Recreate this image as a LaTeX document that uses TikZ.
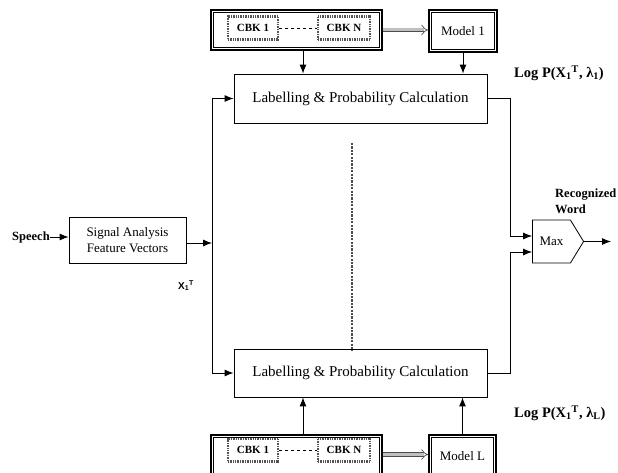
\documentclass[tikz,border=0pt]{standalone}
\usepackage{fontspec}
\setmainfont{Liberation Serif}
\newfontfamily\arialfont{Liberation Sans}
\usetikzlibrary{arrows.meta,shapes.symbols}
\begin{document}
\begin{tikzpicture}[x=1pt,y=-1pt,
  box/.style={draw, line width=0.8pt, inner sep=0pt},
  dblbox/.style={draw, line width=1.5pt, inner sep=0pt},
  cbk/.style={draw=gray!65!black, line width=2.3pt, dash pattern=on 1pt off 0.7pt, inner sep=0pt, minimum height=23pt, font=\fontsize{11}{12}\selectfont\bfseries},
  arr/.style={-{Latex[length=9pt,width=7pt]}, line width=0.9pt},
  dblarr/.style={draw=black!70, double=gray!50, double distance=3pt, line width=0.7pt, -{Implies}},
  lbl/.style={font=\fontsize{15}{18}\selectfont},
  logp/.style={font=\fontsize{14.5}{16}\selectfont\bfseries, anchor=west, inner sep=0pt},
]
\useasboundingbox (0,0) rectangle (618,473);
\clip (0,0) rectangle (618,473);
\fill[white] (0,0) rectangle (618,473);

% top codebook group
\node[dblbox, minimum width=171pt, minimum height=40pt] (cbkt) at (296.5,30) {};
\node[cbk, minimum width=50pt] (c1t) at (253,28) {CBK 1};
\node[cbk, minimum width=52pt] (cNt) at (344,28) {CBK N};
\draw[dashed, line width=0.7pt] (c1t.east) -- (cNt.west);
\node[dblbox, minimum width=68pt, minimum height=42pt, font=\fontsize{13}{15}\selectfont] (m1) at (463,31) {Model 1};

% bottom codebook group
\node[dblbox, minimum width=171pt, minimum height=43pt] (cbkb) at (296.5,456.5) {};
\node[cbk, minimum width=50pt] (c1b) at (253,450) {CBK 1};
\node[cbk, minimum width=52pt] (cNb) at (344,450) {CBK N};
\draw[dashed, line width=0.7pt] (c1b.east) -- (cNb.west);
\node[dblbox, minimum width=67pt, minimum height=43pt, font=\fontsize{13}{15}\selectfont] (mL) at (462.5,456.5) {Model L};

\foreach \n in {cbkt,m1,cbkb,mL}
  \draw[line width=0.5pt] ([xshift=3.2pt,yshift=-3.2pt]\n.north west) rectangle ([xshift=-3.2pt,yshift=3.2pt]\n.south east);

\draw[dblarr] (cbkt.east) -- (cbkt.east -| m1.west);
\draw[dblarr] ([yshift=2pt]cbkb.east) -- ([yshift=2pt]cbkb.east -| mL.west);

% labelling boxes
\node[box, lbl, minimum width=253pt, minimum height=49pt] (lab1) at (360.5,98.5) {Labelling \& Probability Calculation};
\node[box, lbl, minimum width=253pt, minimum height=48pt] (lab2) at (360.5,373) {Labelling \& Probability Calculation};

\draw[arr] ([xshift=6.5pt]cbkt.south) -- ([xshift=6.5pt]cbkt.south |- lab1.north);
\draw[arr] (m1.south) -- (m1.south |- lab1.north);
\draw[arr] ([xshift=6.5pt]cbkb.north) -- ([xshift=6.5pt]cbkb.north |- lab2.south);
\draw[arr] (mL.north) -- (mL.north |- lab2.south);

% dotted separator
\coordinate (d1) at (352,143);
\coordinate (d2) at (352,351);
\draw[gray!60!black, line width=1.6pt, dash pattern=on 2.2pt off 1.2pt] (d1) -- (d2);

% input side
\node[font=\fontsize{12.5}{14}\selectfont\bfseries, inner sep=0pt] (speech) at (31,237) {Speech};
\node[box, minimum width=117pt, minimum height=46pt, align=center, font=\fontsize{13}{16.5}\selectfont] (sig) at (127.5,240) {Signal Analysis\\Feature Vectors};
\draw[arr] (speech.east) -- (speech.east -| sig.west);
\coordinate (j) at (212,243);
\draw[arr] (sig.east |- j) -- (j);
\draw[arr, line width=1pt] (j) |- (lab1.west);
\draw[arr, line width=1pt] (j) |- (lab2.west);
\node[font=\arialfont\fontsize{10}{11}\selectfont\bfseries, inner sep=0pt] (x1t) at (186,286) {X\textsubscript{1}\textsuperscript{T}};

% max
\node[signal, signal to=east, signal pointer angle=117, draw, line width=0.8pt, minimum width=51pt, minimum height=43pt, inner sep=0pt, font=\fontsize{13}{15}\selectfont] (max) at (551.5,241.5) {Max\hspace{6pt}};
\draw[arr, line width=1pt] (lab1.east) -- ++(23,0) |- ([yshift=5.5pt]max.west);
\draw[arr, line width=1pt] (lab2.east) -- ++(23,0) |- ([yshift=-10.5pt]max.west);
\coordinate (out) at (611,241.5);
\draw[arr] (max.east) -- (out);
\node[font=\fontsize{12.5}{16}\selectfont\bfseries, align=left, anchor=west, inner sep=0pt] (rw) at (555,201) {Recognized\\Word};

% log labels
\node[logp] (lp1) at (514,73) {Log P(X\textsubscript{1}\textsuperscript{T}, λ\textsubscript{1})};
\node[logp] (lpL) at (514,413) {Log P(X\textsubscript{1}\textsuperscript{T}, λ\textsubscript{L})};
\end{tikzpicture}
\end{document}
